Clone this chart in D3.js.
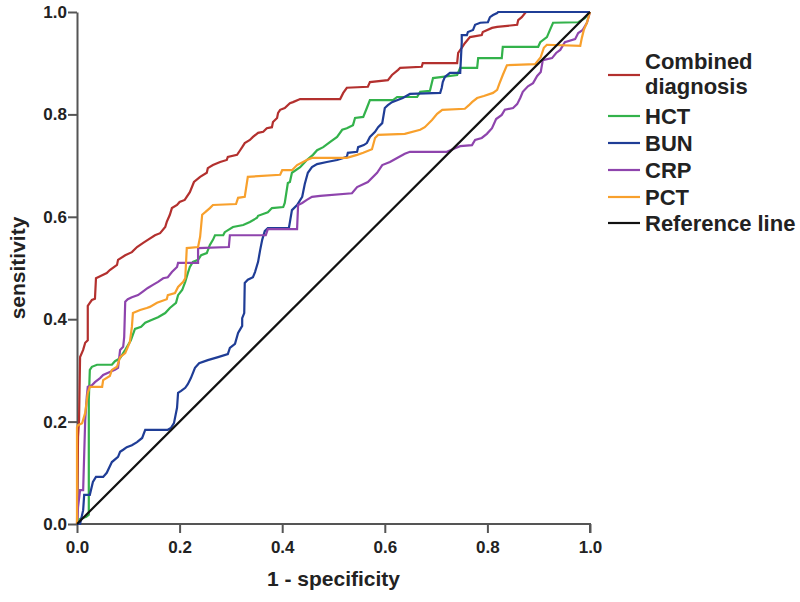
<!DOCTYPE html>
<html>
<head>
<meta charset="utf-8">
<script src="https://cdn.jsdelivr.net/npm/d3@7"></script>
<style>
  html, body { margin: 0; padding: 0; background: #fff; }
  svg { display: block; font-family: "Liberation Sans", Arial, sans-serif; }
</style>
</head>
<body>
<svg id="chart" width="800" height="602"></svg>
<script>
// ---------- DATA ----------
const seriesNames = ["Combined diagnosis", "HCT", "BUN", "CRP", "PCT", "Reference line"];
const legendLines = [["Combined", "diagnosis"], ["HCT"], ["BUN"], ["CRP"], ["PCT"], ["Reference line"]];
const xTicks = [0.0, 0.2, 0.4, 0.6, 0.8, 1.0];
const yTicks = [0.0, 0.2, 0.4, 0.6, 0.8, 1.0];
const xTitle = "1 - specificity";
const yTitle = "sensitivity";

// [1 - specificity, sensitivity]
const combinedPts = [
  [0,0],[0.002,0.17],[0.004,0.203],[0.006,0.326],[0.012,0.34],[0.016,0.354],[0.021,0.359],
  [0.021,0.426],[0.025,0.432],[0.029,0.4375],[0.035,0.44],[0.037,0.48],[0.045,0.484],[0.058,0.49],
  [0.064,0.496],[0.078,0.506],[0.08,0.516],[0.094,0.525],[0.107,0.531],[0.117,0.541],[0.129,0.549],
  [0.138,0.555],[0.152,0.564],[0.162,0.568],[0.172,0.58],[0.175,0.59],[0.181,0.604],[0.185,0.617],
  [0.195,0.623],[0.2,0.629],[0.21,0.633],[0.22,0.648],[0.228,0.668],[0.24,0.678],[0.253,0.686],
  [0.255,0.695],[0.265,0.701],[0.279,0.707],[0.292,0.711],[0.294,0.717],[0.312,0.721],[0.318,0.73],
  [0.322,0.736],[0.327,0.744],[0.337,0.75],[0.343,0.756],[0.353,0.764],[0.363,0.766],[0.37,0.773],
  [0.38,0.775],[0.382,0.785],[0.39,0.793],[0.392,0.803],[0.396,0.809],[0.405,0.8125],[0.415,0.822],
  [0.421,0.824],[0.435,0.83],[0.513,0.83],[0.519,0.842],[0.526,0.852],[0.567,0.854],[0.571,0.863],
  [0.606,0.867],[0.614,0.877],[0.626,0.887],[0.63,0.891],[0.672,0.893],[0.674,0.9],[0.741,0.9],
  [0.743,0.92],[0.75,0.93],[0.756,0.939],[0.766,0.951],[0.789,0.955],[0.791,0.961],[0.809,0.969],
  [0.819,0.971],[0.858,0.975],[0.86,0.984],[0.867,0.99],[0.875,1.0],[1,1]
];
const hctPts = [
  [0,0],[0.006,0.01],[0.018,0.014],[0.023,0.018],[0.023,0.242],[0.025,0.301],[0.029,0.307],
  [0.039,0.311],[0.068,0.311],[0.074,0.318],[0.084,0.324],[0.094,0.34],[0.105,0.359],[0.113,0.381],
  [0.125,0.385],[0.133,0.393],[0.144,0.398],[0.158,0.404],[0.172,0.412],[0.181,0.422],[0.193,0.432],
  [0.197,0.447],[0.205,0.457],[0.211,0.473],[0.216,0.49],[0.22,0.502],[0.226,0.512],[0.236,0.516],
  [0.242,0.525],[0.253,0.529],[0.259,0.545],[0.265,0.555],[0.269,0.564],[0.285,0.564],[0.288,0.57],
  [0.304,0.58],[0.324,0.584],[0.337,0.59],[0.351,0.598],[0.353,0.602],[0.372,0.609],[0.38,0.617],
  [0.402,0.619],[0.405,0.627],[0.411,0.666],[0.415,0.668],[0.419,0.686],[0.435,0.697],[0.448,0.711],
  [0.46,0.721],[0.468,0.73],[0.48,0.736],[0.493,0.746],[0.507,0.756],[0.517,0.77],[0.526,0.773],
  [0.538,0.779],[0.542,0.793],[0.558,0.795],[0.565,0.8125],[0.571,0.828],[0.616,0.828],[0.624,0.834],
  [0.663,0.834],[0.669,0.844],[0.688,0.846],[0.694,0.871],[0.741,0.877],[0.747,0.891],[0.78,0.891],
  [0.782,0.91],[0.828,0.91],[0.83,0.932],[0.899,0.932],[0.903,0.941],[0.916,0.951],[0.922,0.965],
  [0.928,0.979],[0.977,0.98],[0.99,0.988],[1,1]
];
const bunPts = [
  [0,0],[0.006,0],[0.012,0.027],[0.014,0.057],[0.025,0.057],[0.031,0.082],[0.037,0.092],[0.051,0.092],
  [0.058,0.1],[0.068,0.121],[0.08,0.131],[0.084,0.141],[0.09,0.145],[0.097,0.15],[0.107,0.154],
  [0.117,0.16],[0.127,0.168],[0.133,0.184],[0.177,0.184],[0.183,0.1875],[0.189,0.197],[0.195,0.227],
  [0.197,0.256],[0.203,0.26],[0.211,0.266],[0.216,0.273],[0.222,0.285],[0.23,0.305],[0.238,0.314],
  [0.255,0.32],[0.275,0.326],[0.294,0.332],[0.298,0.344],[0.308,0.352],[0.314,0.373],[0.322,0.387],
  [0.322,0.402],[0.326,0.412],[0.327,0.471],[0.333,0.477],[0.343,0.482],[0.347,0.492],[0.353,0.512],
  [0.357,0.535],[0.361,0.555],[0.366,0.572],[0.372,0.578],[0.413,0.578],[0.419,0.613],[0.429,0.623],
  [0.439,0.639],[0.444,0.664],[0.45,0.686],[0.458,0.697],[0.468,0.703],[0.487,0.707],[0.507,0.711],
  [0.526,0.717],[0.528,0.725],[0.546,0.727],[0.548,0.736],[0.559,0.74],[0.565,0.744],[0.571,0.756],
  [0.581,0.766],[0.587,0.775],[0.595,0.783],[0.6,0.8125],[0.606,0.818],[0.614,0.824],[0.635,0.832],
  [0.649,0.84],[0.708,0.842],[0.711,0.852],[0.713,0.863],[0.717,0.873],[0.727,0.881],[0.747,0.881],
  [0.75,0.941],[0.75,0.955],[0.76,0.955],[0.762,0.961],[0.772,0.965],[0.776,0.975],[0.786,0.979],
  [0.801,0.98],[0.805,0.99],[0.811,0.994],[0.819,0.998],[0.821,1],[1,1]
];
const crpPts = [
  [0,0],[0.002,0.033],[0.006,0.066],[0.012,0.066],[0.016,0.203],[0.019,0.248],[0.021,0.268],
  [0.029,0.271],[0.035,0.277],[0.045,0.285],[0.051,0.291],[0.064,0.297],[0.074,0.301],[0.08,0.305],
  [0.084,0.34],[0.09,0.346],[0.092,0.365],[0.094,0.434],[0.099,0.439],[0.107,0.443],[0.119,0.447],
  [0.127,0.453],[0.138,0.461],[0.148,0.467],[0.158,0.473],[0.168,0.48],[0.177,0.482],[0.185,0.492],
  [0.195,0.502],[0.197,0.51],[0.236,0.51],[0.236,0.539],[0.296,0.541],[0.298,0.564],[0.368,0.564],
  [0.372,0.576],[0.429,0.576],[0.431,0.623],[0.439,0.627],[0.448,0.633],[0.458,0.639],[0.474,0.641],
  [0.536,0.646],[0.546,0.658],[0.567,0.668],[0.585,0.686],[0.595,0.701],[0.61,0.707],[0.624,0.715],
  [0.639,0.723],[0.649,0.727],[0.721,0.727],[0.737,0.734],[0.747,0.738],[0.77,0.74],[0.776,0.75],
  [0.789,0.754],[0.799,0.762],[0.809,0.773],[0.817,0.791],[0.828,0.799],[0.834,0.809],[0.85,0.8125],
  [0.858,0.82],[0.864,0.832],[0.869,0.844],[0.879,0.855],[0.889,0.861],[0.897,0.875],[0.904,0.883],
  [0.908,0.906],[0.926,0.91],[0.934,0.92],[0.942,0.926],[0.951,0.941],[0.971,0.947],[0.977,0.959],
  [0.986,0.965],[0.994,0.979],[1,1]
];
const pctPts = [
  [0,0],[0,0.189],[0.002,0.193],[0.01,0.197],[0.016,0.217],[0.021,0.256],[0.025,0.268],[0.049,0.268],
  [0.051,0.281],[0.064,0.289],[0.068,0.301],[0.078,0.307],[0.084,0.326],[0.094,0.334],[0.103,0.355],
  [0.107,0.385],[0.109,0.412],[0.123,0.418],[0.136,0.422],[0.142,0.424],[0.156,0.432],[0.175,0.439],
  [0.177,0.447],[0.191,0.451],[0.197,0.463],[0.207,0.473],[0.211,0.48],[0.214,0.539],[0.236,0.541],
  [0.24,0.561],[0.244,0.604],[0.25,0.609],[0.259,0.617],[0.265,0.623],[0.31,0.625],[0.314,0.637],
  [0.327,0.639],[0.333,0.678],[0.396,0.682],[0.4,0.691],[0.419,0.691],[0.429,0.701],[0.448,0.711],
  [0.458,0.715],[0.526,0.715],[0.546,0.721],[0.558,0.725],[0.575,0.732],[0.581,0.754],[0.587,0.76],
  [0.639,0.762],[0.669,0.77],[0.678,0.775],[0.692,0.789],[0.702,0.801],[0.712,0.809],[0.756,0.811],
  [0.764,0.818],[0.77,0.824],[0.78,0.832],[0.793,0.836],[0.811,0.842],[0.819,0.848],[0.823,0.859],
  [0.83,0.877],[0.838,0.896],[0.893,0.898],[0.904,0.912],[0.91,0.93],[0.916,0.936],[0.981,0.934],
  [0.984,0.949],[0.988,0.965],[0.994,0.979],[1,1]
];
const refPts = [[0,0],[1,1]];

const seriesData = [combinedPts, hctPts, bunPts, crpPts, pctPts, refPts];
const seriesColors = ["#b3302e", "#33b24b", "#1f3d96", "#8e44ad", "#f8a02c", "#111111"];

// ---------- LAYOUT ----------
const svg = d3.select("#chart");
const plot = { left: 77, right: 590, top: 12, bottom: 524 };

const x = d3.scaleLinear().domain([0, 1]).range([plot.left, plot.right]);
const y = d3.scaleLinear().domain([0, 1]).range([plot.bottom, plot.top]);

// axes
const axisColor = "#555";
const xAxis = svg.append("g")
  .attr("transform", `translate(0,${plot.bottom})`)
  .call(d3.axisBottom(x).tickValues(xTicks).tickFormat(d3.format(".1f")).tickSize(9).tickSizeOuter(9));
const yAxis = svg.append("g")
  .attr("transform", `translate(${plot.left},0)`)
  .call(d3.axisLeft(y).tickValues(yTicks).tickFormat(d3.format(".1f")).tickSize(9).tickSizeOuter(0));

[xAxis, yAxis].forEach(g => {
  g.select(".domain").attr("stroke", axisColor).attr("stroke-width", 2);
  g.selectAll(".tick line").attr("stroke", axisColor).attr("stroke-width", 2);
  g.selectAll(".tick text")
    .attr("fill", "#222")
    .attr("font-size", 17)
    .attr("font-weight", "bold")
    .attr("font-family", "'Liberation Sans', Arial, sans-serif");
});
xAxis.select(".domain").attr("d", `M${plot.left},0H${plot.right}V9`);
xAxis.selectAll(".tick text").attr("dy", "0.95em").attr("y", 13);
yAxis.selectAll(".tick text").attr("x", -10);

// axis titles
svg.append("text")
  .attr("x", (plot.left + plot.right) / 2)
  .attr("y", 586)
  .attr("text-anchor", "middle")
  .attr("font-size", 21)
  .attr("font-weight", "bold")
  .attr("fill", "#222")
  .text(xTitle);
svg.append("text")
  .attr("transform", `translate(25,${(plot.top + plot.bottom) / 2}) rotate(-90)`)
  .attr("text-anchor", "middle")
  .attr("font-size", 21)
  .attr("font-weight", "bold")
  .attr("fill", "#222")
  .text(yTitle);

// curves
const line = d3.line().x(d => x(d[0])).y(d => y(d[1]));
svg.append("g").selectAll("path")
  .data(seriesData)
  .join("path")
  .attr("d", d => line(d))
  .attr("fill", "none")
  .attr("stroke", (d, i) => seriesColors[i])
  .attr("stroke-width", 2.2)
  .attr("stroke-linejoin", "miter");

// legend
const legendRowY = [75, 116, 143, 170, 197, 223];
const legend = svg.append("g");
seriesNames.forEach((name, i) => {
  const g = legend.append("g");
  g.append("line")
    .attr("x1", 608).attr("x2", 640)
    .attr("y1", legendRowY[i]).attr("y2", legendRowY[i])
    .attr("stroke", seriesColors[i]).attr("stroke-width", 2.2);
  const lines = legendLines[i];
  if (lines.length === 1) {
    g.append("text")
      .attr("x", 645).attr("y", legendRowY[i] + 8)
      .attr("font-size", 22).attr("font-weight", "bold").attr("fill", "#222")
      .text(lines[0]);
  } else {
    g.append("text")
      .attr("x", 645).attr("y", legendRowY[i] - 6)
      .attr("font-size", 22).attr("font-weight", "bold").attr("fill", "#222")
      .text(lines[0]);
    g.append("text")
      .attr("x", 645).attr("y", legendRowY[i] + 19)
      .attr("font-size", 22).attr("font-weight", "bold").attr("fill", "#222")
      .text(lines[1]);
  }
});
</script>
</body>
</html>
